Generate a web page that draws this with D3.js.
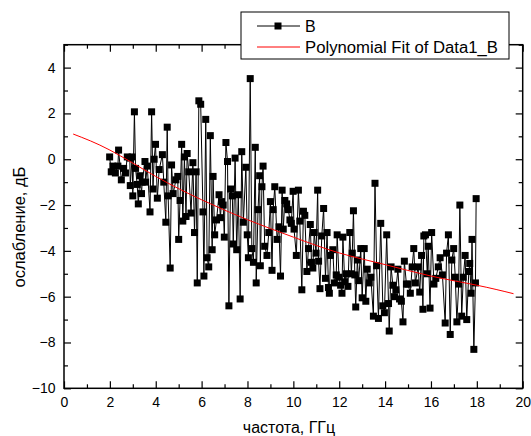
<!DOCTYPE html>
<html><head><meta charset="utf-8">
<script src="https://cdn.jsdelivr.net/npm/d3@7"></script>
<style>
html,body{margin:0;padding:0;background:#fff;}
svg{display:block;font-family:"Liberation Sans",Arial,sans-serif;}
</style></head>
<body>
<svg id="chart" width="531" height="436"></svg>
<script>
const freq = [
1.99,2.06,2.13,2.24,2.35,2.38,2.50,2.60,2.68,2.76,
2.87,2.89,2.97,3.00,3.07,3.12,3.19,3.24,3.31,3.38,
3.41,3.53,3.56,3.63,3.75,3.82,3.88,3.93,3.99,4.07,
4.15,4.29,4.35,4.44,4.50,4.54,4.63,4.69,4.76,4.88,
4.96,5.00,5.06,5.13,5.18,5.25,5.32,5.37,5.44,5.54,
5.62,5.69,5.76,5.81,5.88,5.96,6.06,6.10,6.18,6.24,
6.31,6.38,6.46,6.50,6.57,6.65,6.76,6.82,6.87,6.94,
6.99,7.06,7.13,7.19,7.26,7.34,7.38,7.46,7.53,7.60,
7.68,7.75,7.82,7.93,7.99,8.04,8.12,8.19,8.26,8.34,
8.38,8.46,8.53,8.56,8.63,8.68,8.75,8.85,8.93,9.00,
9.07,9.12,9.19,9.29,9.37,9.44,9.51,9.56,9.63,9.71,
9.78,9.85,9.91,9.99,10.03,10.13,10.22,10.28,10.37,10.44,
10.50,10.59,10.66,10.74,10.79,10.85,10.91,10.99,11.06,11.10,
11.16,11.24,11.32,11.40,11.47,11.53,11.57,11.62,11.72,11.79,
11.87,11.91,11.99,12.06,12.12,12.16,12.24,12.31,12.38,12.46,
12.53,12.57,12.62,12.68,12.72,12.79,12.85,12.94,13.00,13.09,
13.16,13.22,13.31,13.38,13.49,13.56,13.63,13.71,13.81,13.90,
13.97,14.07,14.15,14.18,14.26,14.34,14.41,14.47,14.56,14.63,
14.71,14.78,14.84,14.93,15.00,15.10,15.18,15.25,15.32,15.44,
15.51,15.59,15.65,15.69,15.76,15.84,15.88,15.96,16.03,16.13,
16.21,16.32,16.40,16.50,16.62,16.68,16.76,16.84,16.91,16.99,
17.06,17.13,17.21,17.26,17.34,17.41,17.49,17.56,17.65,17.69,
17.75,17.79,17.87,17.94,17.97];
const atten = [
0.1,-0.55,-0.3,-0.6,-0.3,0.4,-0.9,-0.4,-0.6,0.1,
0.05,-1.15,0.1,-1.6,2.07,-0.4,-1.1,-1.95,-0.72,-1.5,
-1,-0.1,-1,-0.3,-2.3,2.07,-1.3,0,0.65,-1.7,
-0.45,0.2,-1,-2.75,1.4,-1.6,-4.75,-0.25,-1.5,-0.9,
-0.75,-3.5,-1.8,0.65,-2.7,0.1,-2.5,0.25,-0.55,-2.35,
-0.15,-3.2,-0.55,-5.4,2.55,2.4,-2.3,-5.1,1.74,-4.3,
-4.7,1.03,-3.95,-0.75,-3.3,-2.65,-1.55,-2.55,-1.85,-2,
-3.4,0.73,-0.1,-6.4,-1.3,-1.6,-3.7,0.05,-3.95,-1.55,
-6.1,0.33,-2.75,-0.35,-3.3,-4.3,3.52,-3.9,-4.5,0.52,
-5.4,-2.2,-0.72,-4.65,-1.2,-0.3,-3.8,-4.2,-3.2,-1.85,
-4.85,-2.2,-1.2,-3.5,-2.95,-5.1,-1.35,-3.05,-1.8,-1.95,
-2.2,-2.65,-2.8,-1.4,-3.05,-4.2,-1.35,-2.7,-5.7,-2.27,
-2.45,-4.9,-3.9,-2.85,-4.5,-4.75,-3.2,-4.1,-1.35,-4.45,
-5.65,-3.35,-2.15,-5.2,-3.2,-5.6,-5.85,-4.2,-3.95,-5.4,
-5.05,-3.3,-5.15,-5.5,-5.85,-3.4,-5.35,-5,-5.55,-3.2,
-5,-4.1,-2.25,-5.05,-6.45,-4.4,-5.3,-3.9,-6.05,-3.9,
-6.2,-4.8,-5.4,-5.15,-6.85,-1.05,-4.65,-6.95,-2.8,-6.4,
-6.7,-3.3,-6.3,-7.5,-4.7,-5.5,-6,-5.7,-4.8,-6.1,
-6.2,-7.1,-4.45,-5.45,-5.45,-5.85,-4.7,-3.9,-5.4,-4.7,
-5.8,-4.2,-6.55,-3.35,-3.3,-5,-3.8,-6.5,-3.2,-5.45,
-5.2,-4.7,-4.3,-5.05,-7.15,-4.1,-3.3,-7.65,-4.4,-3.9,
-5.15,-7.1,-5.45,-2,-6.85,-5.15,-4.2,-7,-4.9,-4.55,
-5.85,-3.5,-8.3,-5.4,-1.72];
const fitFreq  = [0.4, 2, 4, 6, 8, 10, 12, 14, 16, 18, 19.6];
const fitAtten = [1.1, 0.4, -0.75, -1.77, -2.64, -3.4, -4.09, -4.6, -5.1, -5.5, -5.87];
const xTicks = [0,2,4,6,8,10,12,14,16,18,20];
const xMinor = [1,3,5,7,9,11,13,15,17,19];
const yTicks = [-10,-8,-6,-4,-2,0,2,4];
const yMinor = [-9,-7,-5,-3,-1,1,3,5];
const seriesNames = ["B", "Polynomial Fit of Data1_B"];
const xTitle = "частота, ГГц";
const yTitle = "ослабление, дБ";

const svg = d3.select("#chart");
const L = 64, R = 522.7, T = 44.7, B = 388.3;
const x = d3.scaleLinear().domain([0, 20]).range([L, R]);
const y = d3.scaleLinear().domain([-10, 5]).range([B, T]);

const fontSize = 14;
function styleAxis(g){
  g.select(".domain").remove();
  g.selectAll(".tick line").attr("stroke","#000").attr("stroke-width",1.2);
  g.selectAll("text").attr("font-size",fontSize).attr("fill","#000")
   .attr("font-family",'"Liberation Sans",Arial,sans-serif');
}
svg.append("g").attr("transform",`translate(0,${B})`)
  .call(d3.axisBottom(x).tickValues(xTicks).tickFormat(d3.format("d")).tickSizeInner(-7).tickSizeOuter(0).tickPadding(9)).call(styleAxis);
svg.append("g").attr("transform",`translate(0,${B})`)
  .call(d3.axisBottom(x).tickValues(xMinor).tickFormat("").tickSizeInner(-4).tickSizeOuter(0)).call(styleAxis);
svg.append("g").attr("transform",`translate(0,${T})`)
  .call(d3.axisTop(x).tickValues(xTicks).tickFormat("").tickSizeInner(-7).tickSizeOuter(0)).call(styleAxis);
svg.append("g").attr("transform",`translate(0,${T})`)
  .call(d3.axisTop(x).tickValues(xMinor).tickFormat("").tickSizeInner(-4).tickSizeOuter(0)).call(styleAxis);
svg.append("g").attr("transform",`translate(${L},0)`)
  .call(d3.axisLeft(y).tickValues(yTicks).tickFormat(d3.format("d")).tickSizeInner(-7).tickSizeOuter(0).tickPadding(8.5)).call(styleAxis);
svg.append("g").attr("transform",`translate(${L},0)`)
  .call(d3.axisLeft(y).tickValues(yMinor).tickFormat("").tickSizeInner(-4).tickSizeOuter(0)).call(styleAxis);
svg.append("g").attr("transform",`translate(${R},0)`)
  .call(d3.axisRight(y).tickValues(yTicks).tickFormat("").tickSizeInner(-7).tickSizeOuter(0)).call(styleAxis);
svg.append("g").attr("transform",`translate(${R},0)`)
  .call(d3.axisRight(y).tickValues(yMinor).tickFormat("").tickSizeInner(-4).tickSizeOuter(0)).call(styleAxis);

svg.append("rect").attr("x",L).attr("y",T).attr("width",R-L).attr("height",B-T)
  .attr("fill","none").attr("stroke","#000").attr("stroke-width",1.5);

const pts = freq.map((f,i)=>[f, atten[i]]);
svg.append("path").datum(pts)
  .attr("d", d3.line().x(d=>x(d[0])).y(d=>y(d[1])))
  .attr("fill","none").attr("stroke","#000").attr("stroke-width",1);
const ms = 7;
svg.append("g").selectAll("rect").data(pts).join("rect")
  .attr("x",d=>x(d[0])-ms/2).attr("y",d=>y(d[1])-ms/2)
  .attr("width",ms).attr("height",ms).attr("fill","#000");

const fitPts = fitFreq.map((f,i)=>[f, fitAtten[i]]);
svg.append("path").datum(fitPts)
  .attr("d", d3.line().x(d=>x(d[0])).y(d=>y(d[1])).curve(d3.curveNatural))
  .attr("fill","none").attr("stroke","#ff0000").attr("stroke-width",1);

svg.append("text").attr("x",289).attr("y",433).attr("text-anchor","middle")
  .attr("font-size",16).attr("fill","#000").text(xTitle);
svg.append("text").attr("transform",`translate(25,227) rotate(-90)`)
  .attr("text-anchor","middle").attr("font-size",16.5).attr("fill","#000").text(yTitle);

const lg = svg.append("g");
lg.append("rect").attr("x",241).attr("y",12).attr("width",268).attr("height",47)
  .attr("fill","#fff").attr("stroke","#000").attr("stroke-width",1);
lg.append("line").attr("x1",257).attr("x2",300).attr("y1",26).attr("y2",26)
  .attr("stroke","#000").attr("stroke-width",1);
lg.append("rect").attr("x",278-ms/2).attr("y",26-ms/2).attr("width",ms).attr("height",ms).attr("fill","#000");
lg.append("text").attr("x",305).attr("y",32).attr("font-size",16).attr("fill","#000").text(seriesNames[0]);
lg.append("line").attr("x1",257).attr("x2",300).attr("y1",47).attr("y2",47)
  .attr("stroke","#ff0000").attr("stroke-width",1);
lg.append("text").attr("x",305).attr("y",53).attr("font-size",16).attr("fill","#000")
  .attr("textLength",193).attr("lengthAdjust","spacingAndGlyphs").text(seriesNames[1]);
</script>
</body></html>
